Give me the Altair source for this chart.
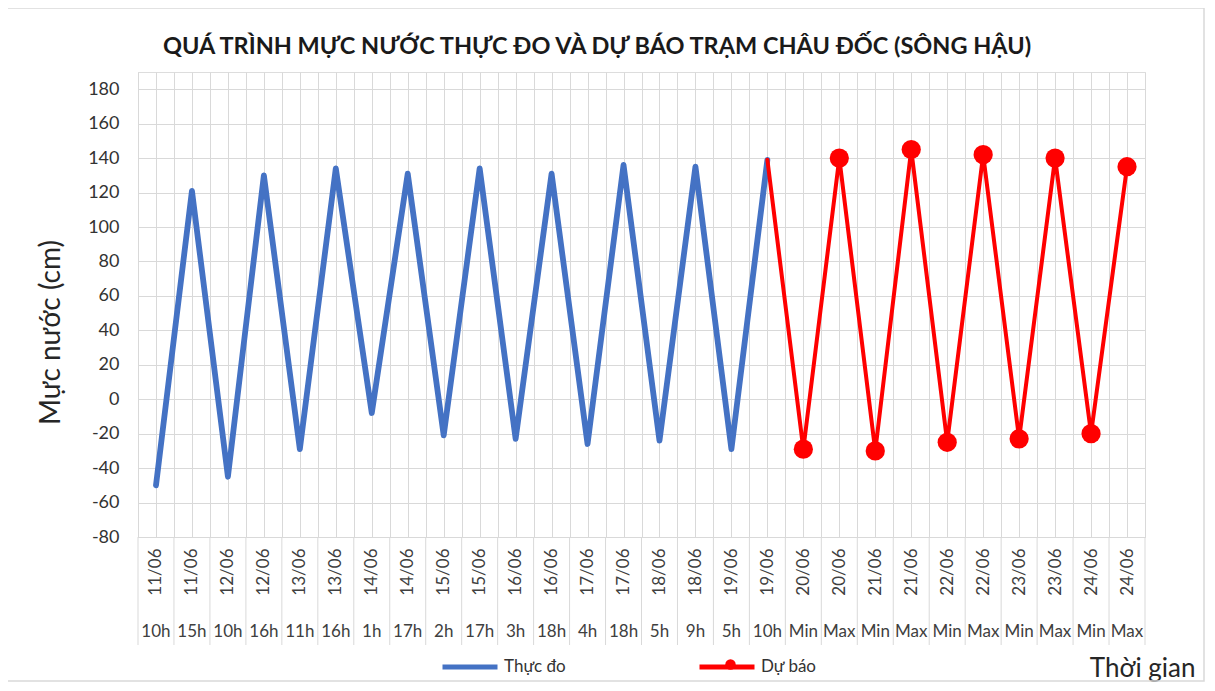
import altair as alt
import pandas as pd

# ---------------- data ----------------
dates = ["11/06", "11/06", "12/06", "12/06", "13/06", "13/06", "14/06", "14/06",
         "15/06", "15/06", "16/06", "16/06", "17/06", "17/06", "18/06", "18/06",
         "19/06", "19/06", "20/06", "20/06", "21/06", "21/06", "22/06", "22/06",
         "23/06", "23/06", "24/06", "24/06"]
hours = ["10h", "15h", "10h", "16h", "11h", "16h", "1h", "17h", "2h", "17h",
         "3h", "18h", "4h", "18h", "5h", "9h", "5h", "10h",
         "Min", "Max", "Min", "Max", "Min", "Max", "Min", "Max", "Min", "Max"]
observed = [-50, 121, -45, 130, -29, 134, -8, 131, -21, 134, -23, 131,
            -26, 136, -24, 135, -29, 139]
forecast = [-29, 140, -30, 145, -25, 142, -23, 140, -20, 135]
series_names = ["Thực đo", "Dự báo"]
series_colors = ["#4472C4", "#FF0000"]
y_ticks = [-80, -60, -40, -20, 0, 20, 40, 60, 80, 100, 120, 140, 160, 180]

TITLE = "QUÁ TRÌNH MỰC NƯỚC THỰC ĐO VÀ DỰ BÁO TRẠM CHÂU ĐỐC (SÔNG HẬU)"
FONT = "Lato"

W, H = 1007, 465
n = len(dates)

# ---------------- tables ----------------
obs_df = pd.DataFrame({
    "x": [i + 0.5 for i in range(len(observed))],
    "value": observed,
    "series": series_names[0],
})
start = len(observed) - 1
fc_line_df = pd.DataFrame({
    "x": [start + 0.5 + i for i in range(len(forecast) + 1)],
    "value": [observed[-1]] + forecast,
    "series": series_names[1],
})
fc_pt_df = pd.DataFrame({
    "x": [start + 1.5 + i for i in range(len(forecast))],
    "value": forecast,
    "series": series_names[1],
})
line_df = pd.concat([obs_df, fc_line_df], ignore_index=True)
hour_df = pd.DataFrame({"x": [i + 0.5 for i in range(n)], "hour": hours})
bound_df = pd.DataFrame({"b": list(range(n + 1))})

grid_vals = [i * 0.5 for i in range(2 * n + 1)]
date_js = "[" + ",".join("'" + d + "'" for d in dates) + "]"
label_expr = f"(datum.value % 1 == 0.5) ? {date_js}[floor(datum.value)] : ''"

x_scale = alt.Scale(domain=[0, n], nice=False, zero=False)
y_scale = alt.Scale(domain=[-80, 190], nice=False, zero=False)

x_axis = alt.Axis(
    values=grid_vals, grid=True, gridColor="#d9d9d9", gridWidth=1,
    ticks=False, domainColor="#d9d9d9", domainWidth=1,
    labelExpr=label_expr, labelAngle=-90, labelAlign="right", labelBaseline="middle",
    labelPadding=11, labelFontSize=17, labelFont=FONT, labelColor="#404040",
    labelOverlap=False, labelFlush=False,
    title="Thời gian", titleFont=FONT, titleFontSize=26, titleFontWeight="normal",
    titleColor="#262626", titleAnchor="end", titleAlign="right",
    titleX=1057, titleY=139, titleBaseline="alphabetic",
)
y_axis = alt.Axis(
    values=y_ticks, grid=True, gridColor="#d9d9d9", gridWidth=1,
    ticks=False, domainColor="#d9d9d9", domainWidth=1,
    labelExpr="'' + datum.value", labelOverlap=False,
    labelFontSize=18, labelFont=FONT, labelColor="#333333", labelPadding=19,
    title="Mực nước (cm)", titleFont=FONT, titleFontSize=28, titleFontWeight="normal",
    titleColor="#262626", titleAngle=-90, titleAlign="center", titleBaseline="middle",
    titleX=-87, titleY=260,
)

line_legend = alt.Legend(
    orient="none", legendX=302, legendY=565, direction="horizontal", title=None,
    symbolType="stroke", symbolSize=3025, symbolStrokeWidth=5,
    labelFont=FONT, labelFontSize=17, labelColor="#333333", labelOffset=4,
    columnPadding=123, padding=0,
)
dot_legend = alt.Legend(
    orient="none", legendX=587, legendY=587, title=None,
    symbolType="circle", symbolSize=110, symbolStrokeWidth=0,
    labelExpr="''", padding=0, zindex=5,
)

one = pd.DataFrame({"a": [0]})
frame = alt.Chart(one).mark_rect(
    fill="transparent", stroke="#d9d9d9", strokeWidth=1.5
).encode(
    x=alt.value(-133), x2=alt.value(1066), y=alt.value(-64), y2=alt.value(609)
)
title_mark = alt.Chart(one).mark_text(
    text=TITLE, font=FONT, fontSize=23.5, fontWeight="bold", color="#1a1a1a",
    align="center", baseline="middle"
).encode(x=alt.value(459), y=alt.value(-25))

lines = alt.Chart(line_df).mark_line(strokeCap="round", strokeJoin="round").encode(
    x=alt.X("x:Q", scale=x_scale, axis=x_axis),
    y=alt.Y("value:Q", scale=y_scale, axis=y_axis),
    color=alt.Color("series:N", scale=alt.Scale(domain=series_names, range=series_colors),
                    legend=line_legend),
    strokeWidth=alt.StrokeWidth("series:N", scale=alt.Scale(domain=series_names, range=[5.8, 4]),
                                legend=None),
    detail="series:N",
)

points = alt.Chart(fc_pt_df).mark_circle(size=370, opacity=1).encode(
    x=alt.X("x:Q", scale=x_scale, axis=x_axis),
    y=alt.Y("value:Q", scale=y_scale, axis=y_axis),
    fill=alt.Fill("series:N", scale=alt.Scale(domain=[series_names[1]], range=[series_colors[1]]),
                  legend=dot_legend),
)

seps = alt.Chart(bound_df).mark_rule(color="#d9d9d9", strokeWidth=1).encode(
    x=alt.X("b:Q", scale=x_scale, axis=x_axis),
    y=alt.value(H), y2=alt.value(H + 108),
)

hour_text = alt.Chart(hour_df).mark_text(
    font=FONT, fontSize=17, color="#404040", baseline="middle", align="center"
).encode(
    x=alt.X("x:Q", scale=x_scale, axis=x_axis),
    y=alt.value(H + 95),
    text="hour:N",
)

chart = alt.layer(frame, title_mark, seps, lines, points, hour_text).resolve_scale(
    fill="independent", color="independent"
).properties(
    width=W, height=H,
    autosize=alt.AutoSizeParams(type="none"),
    padding={"left": 130, "top": 64, "right": 62, "bottom": 146},
).configure_view(stroke=None).configure(background="white")

chart.save("out.html", embed_options={"renderer": "svg", "actions": False})
